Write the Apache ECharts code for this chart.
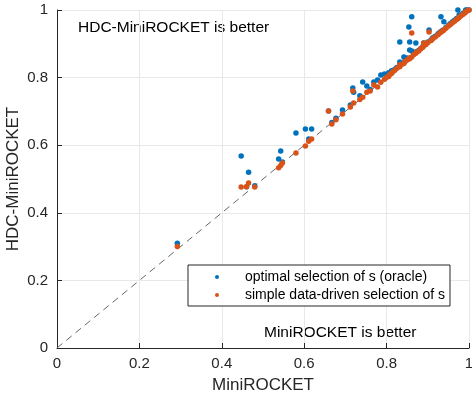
<!DOCTYPE html>
<html>
<head>
<meta charset="utf-8">
<script src="https://cdn.jsdelivr.net/npm/echarts@6/dist/echarts.min.js"></script>
<style>
  html, body { margin: 0; padding: 0; background: #fff; }
  #chart { width: 472px; height: 398px; }
</style>
</head>
<body>
<div id="chart"></div>
<script>
// accuracy per dataset: MiniROCKET (x) vs HDC-MiniROCKET (y)
const miniRocketAcc = [
  0.292, 0.447, 0.465, 0.460, 0.480, 0.538, 0.543, 0.547, 0.580, 0.603,
  0.618, 0.611, 0.659, 0.667, 0.677, 0.693, 0.712, 0.718, 0.720, 0.735,
  0.742, 0.752, 0.760, 0.769, 0.778, 0.786, 0.795, 0.805, 0.812, 0.820,
  0.832, 0.842, 0.856, 0.861, 0.832, 0.856, 0.871, 0.854, 0.861, 0.890,
  0.903, 0.932, 0.939, 0.976, 0.973, 0.992, 0.878,
  0.800, 0.808, 0.815, 0.825, 0.836, 0.845, 0.850, 0.866, 0.873, 0.883,
  0.888, 0.895, 0.900, 0.908, 0.912, 0.918, 0.925, 0.930, 0.936, 0.944,
  0.950, 0.955, 0.960, 0.965, 0.970, 0.980, 0.985, 0.990, 0.995, 1.000
]
const oracleAcc = [
  0.310, 0.568, 0.520, 0.477, 0.480, 0.559, 0.583, 0.550, 0.636, 0.648,
  0.648, 0.618, 0.701, 0.667, 0.680, 0.704, 0.719, 0.769, 0.757, 0.746,
  0.787, 0.775, 0.765, 0.787, 0.793, 0.808, 0.811, 0.814, 0.820, 0.825,
  0.846, 0.861, 0.882, 0.879, 0.905, 0.905, 0.902, 0.950, 0.980, 0.902,
  0.941, 0.980, 0.965, 0.985, 1.000, 1.000, 0.880,
  0.805, 0.812, 0.818, 0.830, 0.840, 0.850, 0.858, 0.870, 0.877, 0.886,
  0.892, 0.900, 0.905, 0.912, 0.918, 0.922, 0.930, 0.935, 0.940, 0.948,
  0.955, 0.960, 0.965, 0.970, 0.975, 0.985, 0.990, 0.993, 1.000, 1.000
]
const dataDrivenAcc = [
  0.300, 0.476, 0.488, 0.477, 0.476, 0.533, 0.540, 0.547, 0.577, 0.598,
  0.618, 0.612, 0.701, 0.663, 0.675, 0.692, 0.713, 0.760, 0.725, 0.735,
  0.742, 0.757, 0.760, 0.778, 0.772, 0.786, 0.795, 0.803, 0.812, 0.822,
  0.832, 0.842, 0.858, 0.861, 0.838, 0.856, 0.872, 0.856, 0.932, 0.902,
  0.935, 0.935, 0.941, 0.978, 0.975, 0.995, 0.879,
  0.801, 0.810, 0.817, 0.828, 0.839, 0.848, 0.852, 0.868, 0.876, 0.885,
  0.890, 0.897, 0.903, 0.910, 0.915, 0.920, 0.927, 0.933, 0.938, 0.946,
  0.953, 0.957, 0.962, 0.967, 0.972, 0.982, 0.987, 0.991, 0.997, 1.000
]
const diagonal = [[0, 0], [1, 1]]

const axisColor = '#262626'
const fontFamily = '"Liberation Sans", Arial, sans-serif'

const chart = echarts.init(document.getElementById('chart'), null, { renderer: 'canvas' })

const oracleData = miniRocketAcc.map((x, i) => [x, oracleAcc[i]])
const drivenData = miniRocketAcc.map((x, i) => [x, dataDrivenAcc[i]])

const valueAxis = {
  type: 'value',
  min: 0,
  max: 1,
  interval: 0.2,
  nameLocation: 'middle',
  nameMoveOverlap: false,
  nameTextStyle: { color: axisColor, fontSize: 17, fontFamily },
  axisLine: { show: true, lineStyle: { color: axisColor, width: 1 } },
  axisTick: { show: true, inside: true, length: 5, lineStyle: { color: axisColor } },
  axisLabel: { color: axisColor, fontSize: 15, fontFamily },
  splitLine: { show: true, lineStyle: { color: '#e8e8e8', width: 1 } }
}

const option = {
  animation: false,
  grid: { left: 57, right: 3, top: 10, bottom: 50, containLabel: false, outerBoundsMode: 'none' },
  xAxis: Object.assign({}, valueAxis, {
    name: 'MiniROCKET',
    nameGap: 29,
    axisLabel: Object.assign({}, valueAxis.axisLabel, { margin: 8 })
  }),
  yAxis: Object.assign({}, valueAxis, {
    name: 'HDC-MiniROCKET',
    nameGap: 35,
    axisLabel: Object.assign({}, valueAxis.axisLabel, { margin: 9 })
  }),
  legend: {
    orient: 'vertical',
    left: 188,
    top: 265,
    data: ['optimal selection of s (oracle)', 'simple data-driven selection of s'],
    icon: 'circle',
    itemWidth: 4,
    itemHeight: 4,
    itemGap: 2,
    padding: [4, 5, 3, 27],
    backgroundColor: '#fff',
    borderColor: axisColor,
    borderWidth: 1,
    borderRadius: 0,
    textStyle: {
      color: '#000',
      fontSize: 14,
      fontFamily,
      lineHeight: 16,
      padding: [0, 0, 0, 21]
    }
  },
  graphic: [
    {
      type: 'text',
      left: 78,
      top: 20,
      style: { text: 'HDC-MiniROCKET is better', fill: '#000', font: '15.5px ' + fontFamily }
    },
    {
      type: 'text',
      left: 264,
      top: 325,
      style: { text: 'MiniROCKET is better', fill: '#000', font: '15.5px ' + fontFamily }
    }
  ],
  series: [
    {
      type: 'line',
      data: diagonal,
      symbol: 'none',
      silent: true,
      lineStyle: { color: '#666', width: 1, type: [7, 5] },
      z: 1
    },
    {
      name: 'optimal selection of s (oracle)',
      type: 'scatter',
      data: oracleData,
      symbolSize: 5.5,
      itemStyle: { color: '#0072BD', opacity: 1 },
      z: 2
    },
    {
      name: 'simple data-driven selection of s',
      type: 'scatter',
      data: drivenData,
      symbolSize: 5.5,
      itemStyle: { color: '#D95319', opacity: 1 },
      z: 3
    }
  ]
}

chart.setOption(option)
</script>
</body>
</html>
